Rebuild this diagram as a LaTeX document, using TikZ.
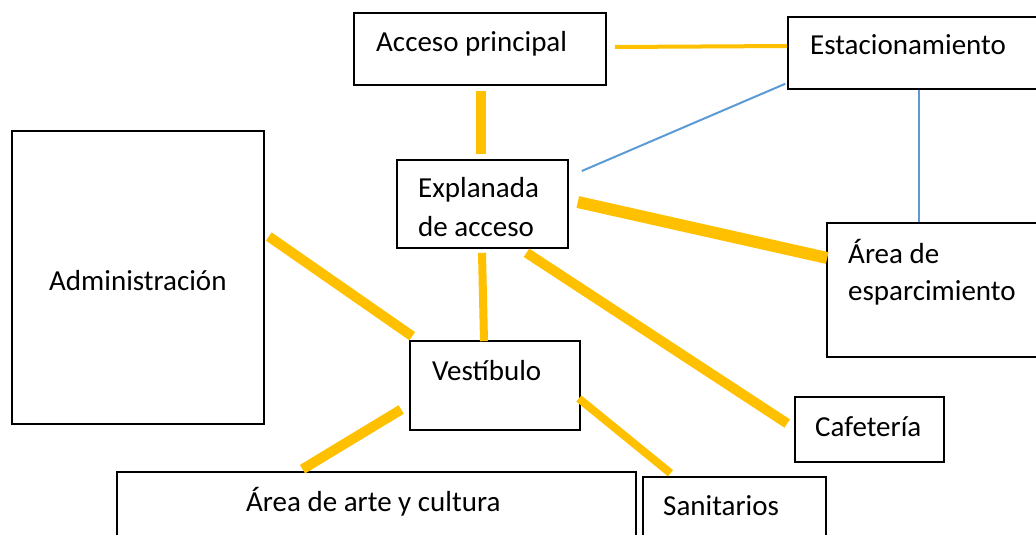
\documentclass[tikz,border=0pt]{standalone}
\usepackage{fontspec}
\setmainfont{Carlito}
\usetikzlibrary{calc}
\definecolor{ylw}{HTML}{FFC000}
\definecolor{blu}{HTML}{5B9BD5}
\tikzset{
  box/.style={draw=black, line width=1.6pt, fill=white, inner sep=0pt},
  lbl/.style={anchor=base west, inner sep=0pt, font=\fontsize{29}{34}\selectfont},
  yl/.style={draw=ylw, line width=#1},
  bl/.style={draw=blu, line width=2pt},
}
\begin{document}
\begin{tikzpicture}[x=1pt,y=-1pt]
\useasboundingbox (0,0) rectangle (1036,535);
% boxes
\node[box, minimum width=252, minimum height=72] (acc) at (480,49) {};
\node[box, minimum width=252, minimum height=72] (est) at (914,53) {};
\node[box, minimum width=252, minimum height=293] (adm) at (138,277.5) {};
\node[box, minimum width=171, minimum height=88] (expl) at (482.5,204) {};
\node[box, minimum width=213, minimum height=134] (esp) at (933.5,290) {};
\node[box, minimum width=170, minimum height=89] (ves) at (495,385.5) {};
\node[box, minimum width=149, minimum height=65] (caf) at (869.5,429.5) {};
\node[box, minimum width=519, minimum height=68] (arte) at (376.5,506) {};
\node[box, minimum width=183, minimum height=63] (san) at (734.5,508.5) {};
% labels
\node[lbl] (tacc) at (376,52) {Acceso principal};
\node[lbl] (test) at (810,55) {Estacionamiento};
\node[lbl] (texp1) at (418,197) {Explanada};
\node[lbl] (texp2) at (418,236) {de acceso};
\node[lbl] (tadm) at (49,290) {Administración};
\node[lbl] (tesp1) at (848,263) {Área de};
\node[lbl] (tesp2) at (848,300) {esparcimiento};
\node[lbl] (tves) at (432,380) {Vestíbulo};
\node[lbl] (tcaf) at (815,436) {Cafetería};
\node[lbl] (tarte) at (246,511) {Área de arte y cultura};
\node[lbl] (tsan) at (663,515) {Sanitarios};
% yellow connectors
\draw[yl=4pt] ($(acc.east)+(8,-2)$) -- ($(est.west)+(0,-7)$);
\draw[yl=10pt] ($(acc.south)+(1,5)$) -- ($(expl.north)+(-1.5,-5)$);
\draw[yl=12pt] ($(expl.east)+(9,-2)$) -- ($(esp.west)+(1,-32)$);
\draw[yl=8pt] ($(expl.south)+(-0.5,4)$) -- ($(ves.north)+(-11,1)$);
\draw[yl=10pt] ($(expl.south)+(44,4)$) -- ($(caf.west)+(-7,-6)$);
\draw[yl=10pt] ($(adm.east)+(4,-41)$) -- ($(ves.north west)+(3,-4)$);
\draw[yl=10pt] ($(ves.west)+(-8,24)$) -- ($(arte.north)+(-74,-2)$);
\draw[yl=8pt] ($(ves.east)+(-2,13)$) -- ($(san.north)+(-64,-3)$);
% blue connectors
\draw[bl] ($(expl.east)+(13,-33)$) -- ($(est.south west)+(-2,-6)$);
\draw[bl] ($(est.south)+(5,0)$) -- ($(esp.north)+(-14.5,0)$);
\end{tikzpicture}
\end{document}
